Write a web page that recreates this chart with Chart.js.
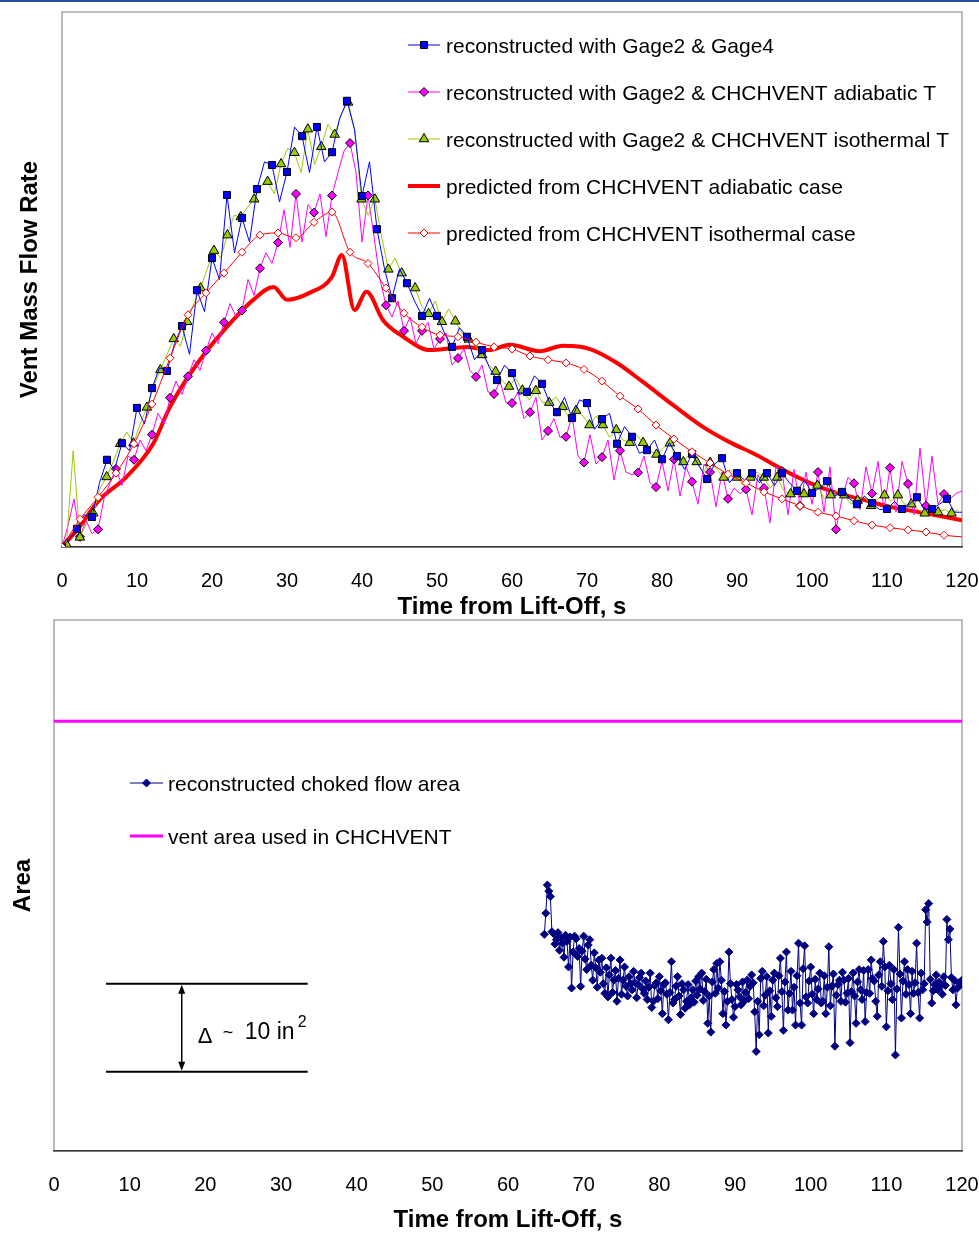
<!DOCTYPE html>
<html>
<head>
<meta charset="utf-8">
<title>Vent mass flow rate and vent area</title>
<script src="https://cdn.jsdelivr.net/npm/chart.js@4.4.1/dist/chart.umd.min.js"></script>
<style>
  html, body { margin: 0; padding: 0; background: #fff; }
  #page { position: relative; width: 979px; height: 1233px; overflow: hidden; }
  #topRule { position: absolute; left: 0; top: 0; width: 979px; height: 2px; background: #244f9e; }
  #flowChart { position: absolute; left: 0; top: 0; }
  #areaChart { position: absolute; left: 0; top: 600px; }
</style>
</head>
<body>
<div id="page">
  <canvas id="flowChart" width="979" height="620"></canvas>
  <canvas id="areaChart" width="979" height="633"></canvas>
  <div id="topRule"></div>
</div>
<script>
// ---- top chart: vent mass flow rate (arbitrary units, 0..100) ----
// reconstructed with Gage2 & Gage4, sampled every 1 s from 0 s
const gage4Start = 0;
const gage4Step = 1;
const gage4Flow = [
  0, 1.5, 3.4, 6.0, 5.6, 12.0, 16.3, 14.5, 19.4, 18.0,
  26.0, 23.0, 29.7, 33.5, 32.9, 38.0, 41.3, 36.0, 48.0, 44.0,
  54.0, 50.0, 65.8, 55.0, 61.5, 57.0, 66.9, 72.0, 71.4, 64.5,
  70.1, 78.5, 76.8, 70.0, 78.5, 72.0, 73.8, 80.0, 83.4, 78.0,
  65.6, 72.0, 59.4, 52.0, 46.5, 52.0, 49.3, 46.0, 43.2, 46.5,
  43.2, 40.0, 37.4, 41.0, 39.3, 35.0, 36.8, 33.5, 31.2, 34.0,
  32.5, 28.5, 29.0, 32.0, 30.5, 27.0, 25.2, 28.0, 24.1, 27.5,
  26.9, 22.0, 23.9, 25.0, 19.3, 22.5, 20.6, 17.5, 18.1, 20.0,
  16.4, 19.5, 17.0, 14.5, 17.4, 15.0, 12.7, 15.5, 16.6, 12.0,
  13.8, 12.5, 13.8, 12.0, 13.8, 11.5, 13.8, 12.0, 10.5, 12.5,
  10.1, 11.0, 12.3, 9.5, 10.3, 9.0, 8.0, 9.5, 8.2, 7.0,
  7.1, 8.5, 7.1, 8.0, 9.3, 7.0, 7.1, 8.0, 9.0, 6.5,
  6.5
];

// reconstructed with Gage2 & CHCHVENT isothermal T
const isoStart = 0.596;
const isoStep = 0.894;
const isoFlow = [
  0.5, 18, 1.8, 4.5, 6.3, 11.0, 13.1, 16.0, 19.3, 21.5,
  19.4, 23.0, 26.1, 30.0, 33.1, 36.0, 38.9, 37.5, 42.1, 45.5,
  48.4, 52.0, 55.4, 54.0, 58.3, 62.0, 61.7, 63.5, 65.0, 67.5,
  68.3, 66.0, 71.6, 74.5, 73.7, 70.0, 78.1, 71.5, 74.8, 79.0,
  77.1, 81.0, 83.1, 78.0, 65.0, 62.0, 65.0, 58.0, 51.9, 54.0,
  51.2, 49.0, 48.4, 45.0, 43.6, 46.0, 42.1, 44.5, 42.2, 40.0,
  38.8, 37.5, 35.9, 34.0, 32.8, 31.0, 30.0, 31.5, 29.3, 27.5,
  29.2, 27.0, 27.0, 28.0, 26.2, 24.0, 25.5, 24.5, 22.8, 24.5,
  22.8, 20.5, 21.9, 20.0, 19.5, 21.0, 19.5, 18.0, 17.3, 18.5,
  19.4, 16.5, 15.9, 17.5, 15.9, 14.0, 15.8, 14.5, 13.0, 14.5,
  13.0, 11.5, 13.0, 14.0, 13.0, 11.0, 13.0, 10.5, 9.9, 11.5,
  9.9, 10.5, 11.5, 9.0, 9.7, 10.5, 9.7, 8.0, 8.7, 9.5,
  7.7, 9.0, 9.7, 8.5, 9.7, 8.0, 8.0, 7.0, 6.3, 7.5,
  6.5, 7.0, 6.3, 7.0
];

// reconstructed with Gage2 & CHCHVENT adiabatic T
const adiaStart = 0;
const adiaStep = 0.8;
const adiaFlow = [
  0, 4, 9, 1.9, 5, 2.5, 3.3, 9, 12, 14.6,
  11.5, 17, 16.3, 20, 18, 21.0, 25, 23, 27.9, 31,
  28.5, 31.9, 35, 33, 36.7, 40, 38, 42.0, 45.5, 43,
  44.2, 50, 47, 52.1, 55, 53, 56.9, 63, 56, 66.0,
  57, 64, 62.5, 66, 58, 65.7, 70, 74, 75.5, 70,
  57, 65.7, 58, 50, 45.2, 43, 46, 40.4, 43, 38,
  40.4, 42, 37, 38.9, 40, 34, 35.3, 37, 33, 31.8,
  34, 29, 28.6, 31, 27, 26.9, 29, 24, 25.2, 28,
  20, 21.7, 24, 20.5, 20.6, 24.5, 17, 15.8, 21, 15.5,
  16.8, 20, 12.5, 18.0, 14, 13.5, 13.9, 17, 12, 11.2,
  16, 10.5, 16.4, 9.5, 15, 12.2, 8, 15.5, 14.0, 7.5,
  14, 9.0, 11, 10, 10.8, 6, 13.5, 11.0, 4.5, 15,
  14.2, 6, 14.5, 7.7, 14, 8, 14.0, 6.5, 15, 3.3,
  9, 13, 11.9, 7, 15, 10.0, 16, 7, 14.8, 6.5,
  16, 11.8, 6, 18.5, 7.7, 17, 8, 9.9, 9, 10,
  10.5
];

// predicted from CHCHVENT isothermal case
const predIsoStart = 0;
const predIsoStep = 2.4;
const predIsoFlow = [
  0, 5.2, 9.3, 13.8, 19.3, 26.7, 35.3, 43.4, 47.5, 51.2,
  55.1, 58.3, 58.7, 57.8, 60.7, 62.6, 55.1, 53.0, 48.4, 43.7,
  41.1, 39.6, 39.3, 38.3, 37.4, 37.0, 35.7, 35.0, 34.4, 33.2,
  31.0, 28.2, 25.8, 22.8, 20.2, 17.8, 15.7, 13.6, 12.0, 10.3,
  9.0, 7.7, 6.5, 5.8, 4.9, 4.1, 3.6, 3.2, 2.8, 2.2,
  1.9
];

// predicted from CHCHVENT adiabatic case
const predAdiaTime = [
  0, 2, 5, 8.6, 12.2, 14.4, 18.4, 22.8, 25.5, 28.2,
  30, 33, 36, 37.3, 39, 40.6, 42.8, 45.5, 49, 54,
  57, 59.7, 63.7, 66.8, 70.4, 74, 77.5, 81.5, 85.5, 89,
  92.6, 96.2, 99.7, 103.3, 106.9, 110.4, 114.8, 120
];
const predAdiaFlow = [
  0, 3.2, 8.8, 13.1, 19.4, 26.2, 35, 42.4, 46.2, 48.6,
  46.2, 47.5, 50.5, 54.6, 44.3, 47.7, 42.4, 39.3, 36.8, 37.4,
  36.8, 37.8, 36.6, 37.6, 37, 34.4, 30.8, 26.5, 22.4, 19.6,
  17.2, 14.4, 12, 10.1, 8.8, 7.5, 6.4, 5
];

// ---- bottom chart: area (in^2, arbitrary zero) ----
const chokedStart = 64.8;
const chokedStep = 0.2;
const chokedArea = [
  24.6, 27.0, 30.2, 29.5, 28.9, 24.9, 24.7, 23.5, 24.0, 24.8,
  22.8, 24.2, 23.6, 22.0, 24.5, 23.8, 20.9, 24.3, 18.5, 22.6,
  24.4, 24.1, 22.1, 23.0, 18.7, 22.7, 24.4, 21.8, 20.6, 23.4,
  24.0, 21.1, 19.4, 22.5, 20.8, 18.6, 21.7, 20.3, 21.9, 19.0,
  17.9, 20.8, 17.5, 20.0, 21.9, 18.0, 19.4, 20.5, 17.0, 19.6,
  21.7, 17.8, 19.4, 20.9, 18.7, 17.6, 19.8, 19.0, 18.3, 20.4,
  19.1, 17.4, 18.9, 19.7, 20.2, 18.4, 17.9, 19.3, 17.2, 18.6,
  20.2, 16.3, 17.0, 18.8, 19.1, 17.3, 19.8, 18.2, 15.6, 18.9,
  19.1, 17.8, 14.9, 18.0, 21.5, 16.8, 17.2, 18.7, 19.8, 17.6,
  15.5, 19.0, 18.3, 16.2, 17.0, 18.9, 16.6, 17.4, 18.3, 16.9,
  19.3, 17.7, 19.8, 18.4, 20.2, 17.1, 18.1, 19.5, 14.5, 17.6,
  13.5, 19.2, 20.6, 17.9, 21.3, 18.5, 21.5, 19.4, 15.6, 18.1,
  14.3, 17.0, 22.6, 19.0, 17.2, 15.2, 16.4, 18.9, 18.3, 17.5,
  16.6, 19.2, 17.0, 18.0, 19.4, 17.3, 18.7, 20.0, 19.1, 15.8,
  11.3, 17.0, 13.2, 19.6, 20.4, 16.5, 17.7, 19.8, 13.4, 18.2,
  15.3, 19.4, 20.2, 17.4, 16.4, 19.9, 21.9, 18.1, 13.7, 19.2,
  22.6, 16.0, 17.9, 20.4, 16.0, 18.6, 14.3, 19.9, 23.6, 16.8,
  14.3, 20.7, 23.3, 17.5, 16.8, 19.3, 20.9, 17.8, 15.6, 19.5,
  17.2, 18.4, 20.2, 16.8, 17.0, 19.9, 15.6, 18.6, 23.2, 16.5,
  18.7, 20.1, 11.9, 17.7, 18.9, 19.4, 17.0, 20.3, 19.4, 16.9,
  17.9, 19.6, 12.3, 18.1, 20.2, 17.6, 14.5, 19.2, 20.6, 18.3,
  17.2, 20.5, 14.7, 18.0, 20.6, 17.9, 21.7, 19.6, 19.3, 17.0,
  15.3, 20.0, 21.5, 18.7, 23.8, 20.9, 14.1, 18.2, 21.1, 19.0,
  17.2, 20.6, 10.9, 18.4, 25.4, 20.1, 15.1, 19.3, 21.5, 17.8,
  20.6, 18.9, 15.6, 20.4, 17.9, 19.1, 23.6, 18.0, 15.1, 20.2,
  18.3, 19.0, 27.4, 26.0, 28.1, 19.5, 16.8, 18.2, 18.9, 20.0,
  18.3, 19.2, 18.9, 17.8, 19.8, 18.8, 26.3, 24.0, 25.2, 19.7,
  18.3, 19.4, 16.6, 18.5, 19.1, 18.9, 19.4
];
const ventTime = [0, 120];
const ventArea = [48.8, 48.8];

// "delta ~ 10 in^2" bracket
const deltaLevels = [19, 9];
const deltaSpan = [6.87, 33.53];
const deltaArrowTime = 16.88;

// ---- styles ----
const FONT = "'Liberation Sans', Arial, Helvetica, sans-serif";
const BLUE = '#0000FF';
const MAGENTA = '#FF00FF';
const GREEN = '#99CC00';
const RED = '#FF0000';
const NAVY = '#000080';

Chart.defaults.font.family = FONT;
Chart.defaults.color = '#000';
Chart.defaults.animation = false;

function toPoints(start, step, values) {
  return values.map((v, i) => ({ x: +(start + step * i).toFixed(3), y: v }));
}

function pairPoints(times, values) {
  return values.map((v, i) => ({ x: times[i], y: v }));
}

// markers on every n-th sample, none at the right edge
function markerEvery(n, radius) {
  return (ctx) => (ctx.dataIndex % n === 0 && ctx.raw && ctx.raw.x < 119 ? radius : 0);
}

function markerPath(ctx, style, x, y, r) {
  ctx.beginPath();
  if (style === 'rect') {
    const h = r * Math.SQRT1_2;
    ctx.rect(x - h, y - h, 2 * h, 2 * h);
  } else if (style === 'rectRot') {
    ctx.moveTo(x, y - r);
    ctx.lineTo(x + r, y);
    ctx.lineTo(x, y + r);
    ctx.lineTo(x - r, y);
    ctx.closePath();
  } else if (style === 'triangle') {
    let a = 0;
    ctx.moveTo(x + Math.sin(a) * r, y - Math.cos(a) * r);
    a += 2 * Math.PI / 3;
    ctx.lineTo(x + Math.sin(a) * r, y - Math.cos(a) * r);
    a += 2 * Math.PI / 3;
    ctx.lineTo(x + Math.sin(a) * r, y - Math.cos(a) * r);
    ctx.closePath();
  }
}

function drawLegendRows(ctx, rows, x0, x1, textX, y0, gap) {
  ctx.save();
  rows.forEach((row, k) => {
    const y = y0 + gap * k;
    ctx.strokeStyle = row.color;
    ctx.lineWidth = row.width;
    ctx.beginPath();
    ctx.moveTo(x0, y);
    ctx.lineTo(x1, y);
    ctx.stroke();
    if (row.marker) {
      markerPath(ctx, row.marker, (x0 + x1) / 2, y, row.radius);
      ctx.fillStyle = row.fill;
      ctx.fill();
      ctx.strokeStyle = row.stroke;
      ctx.lineWidth = 1;
      ctx.stroke();
    }
    ctx.fillStyle = '#000';
    ctx.font = '21px ' + FONT;
    ctx.textBaseline = 'alphabetic';
    ctx.fillText(row.text, textX, y + 8);
  });
  ctx.restore();
}

const plotFrame = {
  id: 'plotFrame',
  beforeDraw(chart) {
    const { ctx, chartArea: a } = chart;
    ctx.save();
    ctx.strokeStyle = '#a8a8a8';
    ctx.lineWidth = 1.5;
    ctx.strokeRect(a.left, a.top, a.right - a.left, a.bottom - a.top);
    ctx.restore();
  }
};

const flowLegend = {
  id: 'flowLegend',
  afterDatasetsDraw(chart) {
    drawLegendRows(chart.ctx, [
      { text: 'reconstructed with Gage2 & Gage4', color: BLUE, width: 1, marker: 'rect', radius: 5, fill: BLUE, stroke: '#000' },
      { text: 'reconstructed with Gage2 & CHCHVENT adiabatic T', color: MAGENTA, width: 1, marker: 'rectRot', radius: 4.5, fill: MAGENTA, stroke: '#000' },
      { text: 'reconstructed with Gage2 & CHCHVENT isothermal T', color: GREEN, width: 1, marker: 'triangle', radius: 5.5, fill: GREEN, stroke: '#000' },
      { text: 'predicted from CHCHVENT adiabatic case', color: RED, width: 4 },
      { text: 'predicted from CHCHVENT isothermal case', color: RED, width: 1, marker: 'rectRot', radius: 4, fill: '#fff', stroke: RED }
    ], 408, 440, 446, 45, 47);
  }
};

const areaLegend = {
  id: 'areaLegend',
  afterDatasetsDraw(chart) {
    // canvas starts 600px down the page
    drawLegendRows(chart.ctx, [
      { text: 'reconstructed choked flow area', color: NAVY, width: 1, marker: 'rectRot', radius: 4, fill: NAVY, stroke: NAVY },
      { text: 'vent area used in CHCHVENT', color: MAGENTA, width: 3 }
    ], 130, 163, 168, 183, 53);
  }
};

const deltaMarker = {
  id: 'deltaMarker',
  afterDatasetsDraw(chart) {
    const { ctx, scales: { x, y } } = chart;
    const x1 = x.getPixelForValue(deltaSpan[0]);
    const x2 = x.getPixelForValue(deltaSpan[1]);
    const yHi = y.getPixelForValue(deltaLevels[0]);
    const yLo = y.getPixelForValue(deltaLevels[1]);
    const ax = x.getPixelForValue(deltaArrowTime);
    const mid = (yHi + yLo) / 2;
    ctx.save();
    ctx.strokeStyle = '#000';
    ctx.fillStyle = '#000';
    ctx.lineWidth = 2;
    [yHi, yLo].forEach((py) => {
      ctx.beginPath();
      ctx.moveTo(x1, py);
      ctx.lineTo(x2, py);
      ctx.stroke();
    });
    ctx.lineWidth = 1.5;
    ctx.beginPath();
    ctx.moveTo(ax, yHi + 8);
    ctx.lineTo(ax, yLo - 8);
    ctx.stroke();
    ctx.beginPath();
    ctx.moveTo(ax, yHi + 1);
    ctx.lineTo(ax - 3.5, yHi + 10);
    ctx.lineTo(ax + 3.5, yHi + 10);
    ctx.closePath();
    ctx.fill();
    ctx.beginPath();
    ctx.moveTo(ax, yLo - 1);
    ctx.lineTo(ax - 3.5, yLo - 10);
    ctx.lineTo(ax + 3.5, yLo - 10);
    ctx.closePath();
    ctx.fill();
    ctx.textBaseline = 'alphabetic';
    ctx.font = '22px ' + FONT;
    ctx.fillText('Δ', ax + 16, mid + 15);
    ctx.font = '18px ' + FONT;
    ctx.fillText('~', ax + 41, mid + 10);
    ctx.font = '23px ' + FONT;
    ctx.fillText('10 in', ax + 63, mid + 11);
    ctx.font = '16px ' + FONT;
    ctx.fillText('2', ax + 116, mid - 1);
    ctx.restore();
  }
};

function timeAxis(height) {
  return {
    type: 'linear',
    min: 0,
    max: 120,
    ticks: { stepSize: 10, padding: 22, maxRotation: 0, autoSkip: false, font: { size: 20 }, color: '#000' },
    grid: { display: false, drawTicks: false },
    border: { display: true, color: '#3a3a3a', width: 1.5 },
    title: {
      display: true,
      text: 'Time from Lift-Off, s',
      color: '#000',
      font: { size: 24, weight: 'bold', lineHeight: 1 },
      padding: { top: 0, bottom: 1 }
    },
    afterFit: (scale) => {
      scale.height = height;
      // let the layout padding alone decide the plot edges
      scale.paddingLeft = 0;
      scale.paddingRight = 0;
    }
  };
}

function hiddenValueAxis(max, text, width, titlePad) {
  return {
    type: 'linear',
    min: 0,
    max: max,
    ticks: { display: false },
    grid: { display: false, drawTicks: false },
    border: { display: false },
    title: {
      display: true,
      text: text,
      color: '#000',
      font: { size: 24, weight: 'bold', lineHeight: 1 },
      padding: { top: titlePad, bottom: 0 }
    },
    afterFit: (scale) => {
      scale.width = width;
      scale.paddingTop = 0;
      scale.paddingBottom = 0;
    }
  };
}

new Chart(document.getElementById('flowChart'), {
  type: 'line',
  data: {
    datasets: [
      {
        label: 'predicted from CHCHVENT isothermal case',
        data: toPoints(predIsoStart, predIsoStep, predIsoFlow),
        borderColor: RED,
        borderWidth: 1,
        cubicInterpolationMode: 'monotone',
        pointStyle: 'rectRot',
        pointRadius: markerEvery(1, 4),
        pointBackgroundColor: '#fff',
        pointBorderColor: RED,
        pointBorderWidth: 1
      },
      {
        label: 'reconstructed with Gage2 & Gage4',
        data: toPoints(gage4Start, gage4Step, gage4Flow),
        borderColor: BLUE,
        borderWidth: 1,
        tension: 0,
        pointStyle: 'rect',
        pointRadius: markerEvery(2, 5),
        pointBackgroundColor: BLUE,
        pointBorderColor: '#000',
        pointBorderWidth: 1
      },
      {
        label: 'reconstructed with Gage2 & CHCHVENT isothermal T',
        data: toPoints(isoStart, isoStep, isoFlow),
        borderColor: GREEN,
        borderWidth: 1,
        tension: 0,
        pointStyle: 'triangle',
        pointRadius: markerEvery(2, 5.5),
        pointBackgroundColor: GREEN,
        pointBorderColor: '#000',
        pointBorderWidth: 1
      },
      {
        label: 'reconstructed with Gage2 & CHCHVENT adiabatic T',
        data: toPoints(adiaStart, adiaStep, adiaFlow),
        borderColor: MAGENTA,
        borderWidth: 1,
        tension: 0,
        pointStyle: 'rectRot',
        pointRadius: markerEvery(3, 4.5),
        pointBackgroundColor: MAGENTA,
        pointBorderColor: '#000',
        pointBorderWidth: 1
      },
      {
        label: 'predicted from CHCHVENT adiabatic case',
        data: pairPoints(predAdiaTime, predAdiaFlow),
        borderColor: RED,
        borderWidth: 4,
        cubicInterpolationMode: 'monotone',
        pointRadius: 0
      }
    ]
  },
  options: {
    responsive: false,
    devicePixelRatio: 1,
    events: [],
    layout: { padding: { top: 12, right: 17, bottom: 0, left: 0 } },
    plugins: { legend: { display: false }, tooltip: { enabled: false } },
    scales: {
      x: timeAxis(73),
      y: hiddenValueAxis(100, 'Vent Mass Flow Rate', 62, 18)
    }
  },
  plugins: [plotFrame, flowLegend]
});

new Chart(document.getElementById('areaChart'), {
  type: 'line',
  data: {
    datasets: [
      {
        label: 'reconstructed choked flow area',
        data: toPoints(chokedStart, chokedStep, chokedArea),
        borderColor: NAVY,
        borderWidth: 1,
        tension: 0,
        pointStyle: 'rectRot',
        pointRadius: 4,
        pointBackgroundColor: NAVY,
        pointBorderColor: NAVY,
        pointBorderWidth: 1
      },
      {
        label: 'vent area used in CHCHVENT',
        data: pairPoints(ventTime, ventArea),
        borderColor: MAGENTA,
        borderWidth: 3,
        pointRadius: 0
      }
    ]
  },
  options: {
    responsive: false,
    devicePixelRatio: 1,
    events: [],
    layout: { padding: { top: 20, right: 17, bottom: 0, left: 0 } },
    plugins: { legend: { display: false }, tooltip: { enabled: false } },
    scales: {
      x: timeAxis(82),
      y: hiddenValueAxis(60.3, 'Area', 54, 11)
    }
  },
  plugins: [plotFrame, areaLegend, deltaMarker]
});
</script>
</body>
</html>
